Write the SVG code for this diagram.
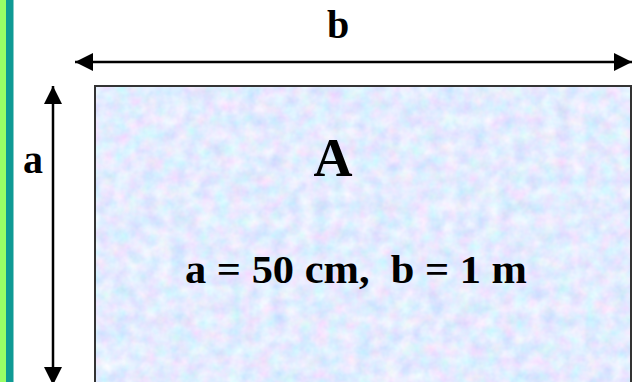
<svg xmlns="http://www.w3.org/2000/svg" width="632" height="382" viewBox="0 0 632 382">
<style>
.lbl{font-family:"Liberation Serif","Times New Roman",serif;font-weight:bold;fill:#000}
.dim{stroke:#000;stroke-width:2.5;fill:none}
</style>
<defs>
<marker id="ah" markerUnits="userSpaceOnUse" markerWidth="18" markerHeight="18" viewBox="0 0 16 16" refX="16" refY="8" orient="auto-start-reverse">
<path d="M0,0 L16,8 L0,16 Z" fill="#000"/>
</marker>
<filter id="tex" x="95" y="86" width="537" height="296" filterUnits="userSpaceOnUse">
<feTurbulence type="fractalNoise" baseFrequency="0.07" numOctaves="3" seed="11" result="n"/>
<feColorMatrix in="n" type="matrix" values="0.5 0 0 0 0.52  0 0.35 0 0 0.66  0 0 0.2 0 0.9  0 0 0 0 1"/>
</filter>
</defs>
<rect width="632" height="382" fill="#fff"/>
<g id="side-strip">
<rect x="0" y="0" width="6" height="382" fill="#99ff66"/>
<rect x="6" y="0" width="7.5" height="382" fill="#0f9a94"/>
</g>
<g id="rect-A">
<rect x="95" y="86" width="537" height="296" fill="#cdd8f6"/>
<rect x="95" y="86" width="537" height="296" filter="url(#tex)"/>
<rect x="95" y="86" width="536" height="300" fill="none" stroke="#333" stroke-width="2"/>
<text class="lbl" x="333" y="176" font-size="54" text-anchor="middle">A</text>
<text class="lbl" x="185" y="283" font-size="41" textLength="342" lengthAdjust="spacingAndGlyphs" xml:space="preserve" style="white-space:pre">a = 50 cm,  b = 1 m</text>
</g>
<g id="connectors">
<line class="dim" x1="75" y1="62" x2="632" y2="62" marker-start="url(#ah)" marker-end="url(#ah)"/>
<line class="dim" x1="53" y1="86" x2="53" y2="385" marker-start="url(#ah)" marker-end="url(#ah)"/>
</g>
<g id="labels">
<text class="lbl" x="338" y="38" font-size="40" text-anchor="middle">b</text>
<text class="lbl" x="33" y="173" font-size="40" text-anchor="middle">a</text>
</g>
</svg>
